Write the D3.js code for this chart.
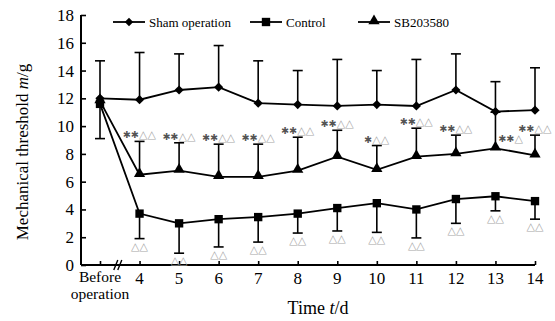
<!DOCTYPE html>
<html>
<head>
<meta charset="utf-8">
<script src="https://cdn.jsdelivr.net/npm/d3@7"></script>
<style>
  html, body { margin: 0; padding: 0; background: #fff; }
  svg { display: block; font-family: "Liberation Serif", "Times New Roman", serif; }
</style>
</head>
<body>
<div id="chart"></div>
<script>
// categories on the time axis
const days = ['Before operation', '4', '5', '6', '7', '8', '9', '10', '11', '12', '13', '14'];
const yTicks = [0, 2, 4, 6, 8, 10, 12, 14, 16, 18];

// mean values
const sham = [12.0, 11.9, 12.6, 12.8, 11.65, 11.55, 11.45, 11.55, 11.45, 12.6, 11.05, 11.15];
const control = [11.6, 3.7, 3.0, 3.3, 3.45, 3.7, 4.1, 4.45, 4.0, 4.75, 4.95, 4.6];
const sb = [11.8, 6.5, 6.8, 6.35, 6.35, 6.8, 7.8, 6.85, 7.8, 8.0, 8.4, 7.9];

// error bar ends (sham and SB drawn upward, control downward)
const shamHigh = [14.7, 15.3, 15.2, 15.8, 14.7, 14.0, 14.8, 14.0, 14.8, 15.2, 13.2, 14.2];
const shamLow = [9.1, null, null, null, null, null, null, null, null, null, null, null];
const sbHigh = [null, 8.9, 8.8, 8.7, 8.7, 9.2, 9.7, 8.6, 9.85, 9.35, 11.0, 9.35];
const controlLow = [null, 1.9, 0.85, 1.3, 1.65, 2.3, 2.45, 2.35, 1.95, 3.0, 3.9, 3.3];

// significance marks
const sbStars = ['', '**', '**', '**', '**', '**', '**', '*', '**', '**', '**', '**'];
const sbTri = ['', '△△', '△△', '△△', '△△', '△△', '△△', '△△', '△△', '△△', '△', '△△'];
const controlTri = ['', '△△', '△△', '△△', '△△', '△△', '△△', '△△', '△△', '△△', '△△', '△△'];

const legendNames = ['Sham operation', 'Control', 'SB203580'];

const width = 555, height = 321;
const margin = { top: 15, left: 81, bottom: 56 };

const svg = d3.select('#chart').append('svg')
	.attr('width', width).attr('height', height);

const x = d3.scalePoint().domain(days).range([100, 535]);
const y = d3.scaleLinear().domain([0, 18]).range([height - margin.bottom, margin.top]);

const g = svg.append('g');

// y axis, ticks inside
const yAxis = g.append('g').attr('transform', `translate(${margin.left},0)`)
	.call(d3.axisRight(y).tickValues(yTicks).tickSize(5).tickFormat(''));
yAxis.select('.domain').attr('d', `M0,${y(18)}V${y(0)}`).attr('stroke-width', 2);
yAxis.selectAll('.tick line').attr('stroke-width', 1.6);
g.selectAll('.ylab').data(yTicks).join('text')
	.attr('x', margin.left - 7).attr('y', d => y(d) + 6)
	.attr('text-anchor', 'end').attr('font-size', 17).text(d => d);

// x axis, ticks upward
const xAxis = g.append('g').attr('transform', `translate(0,${y(0)})`)
	.call(d3.axisTop(x).tickSize(4).tickFormat(''));
xAxis.select('.domain').attr('d', `M${margin.left},0H${x('14')}`).attr('stroke-width', 2);
xAxis.selectAll('.tick line').attr('stroke-width', 1.6);

// axis break
const bx = (x(days[0]) + x(days[1])) / 2 - 2;
[-2, 2].forEach(o => {
	g.append('line')
		.attr('x1', bx + o - 2).attr('y1', y(0) + 5)
		.attr('x2', bx + o + 2).attr('y2', y(0) - 5)
		.attr('stroke', '#000').attr('stroke-width', 1.4);
});

g.selectAll('.xlab').data(days.slice(1)).join('text')
	.attr('x', d => x(d)).attr('y', y(0) + 19)
	.attr('text-anchor', 'middle').attr('font-size', 17).text(d => d);
const before = g.append('text').attr('x', x(days[0])).attr('text-anchor', 'middle').attr('font-size', 15.5);
before.append('tspan').attr('x', x(days[0])).attr('y', y(0) + 17).text('Before');
before.append('tspan').attr('x', x(days[0])).attr('y', y(0) + 34).text('operation');

// axis titles
const xt = g.append('text').attr('x', 318).attr('y', 314)
	.attr('text-anchor', 'middle').attr('font-size', 18);
xt.append('tspan').text('Time ');
xt.append('tspan').attr('font-style', 'italic').text('t');
xt.append('tspan').text('/d');

const yt = g.append('text').attr('transform', 'translate(28,152) rotate(-90)')
	.attr('text-anchor', 'middle').attr('font-size', 17);
yt.append('tspan').text('Mechanical threshold ');
yt.append('tspan').attr('font-style', 'italic').text('m');
yt.append('tspan').text('/g');

// error bars
const cap = 5;
function bars(means, ends, cls) {
	const pts = days.map((d, i) => ({ d, m: means[i], e: ends[i] })).filter(p => p.e != null);
	const eb = g.append('g').attr('class', cls).attr('stroke', '#000').attr('stroke-width', 1.6);
	eb.selectAll('line.v').data(pts).join('line').attr('class', 'v')
		.attr('x1', p => x(p.d)).attr('x2', p => x(p.d))
		.attr('y1', p => y(p.m)).attr('y2', p => y(p.e));
	eb.selectAll('line.c').data(pts).join('line').attr('class', 'c')
		.attr('x1', p => x(p.d) - cap).attr('x2', p => x(p.d) + cap)
		.attr('y1', p => y(p.e)).attr('y2', p => y(p.e));
}
bars(sham, shamHigh, 'eb-sham');
bars(sham, shamLow, 'eb-sham-low');
bars(sb, sbHigh, 'eb-sb');
bars(control, controlLow, 'eb-control');

// lines
const line = d3.line().x((v, i) => x(days[i])).y(v => y(v));
[sham, control, sb].forEach(s => {
	g.append('path').attr('d', line(s)).attr('fill', 'none')
		.attr('stroke', '#000').attr('stroke-width', 1.8);
});

// markers
function diamond(cx, cy, r) {
	return `M${cx},${cy - r}L${cx + r},${cy}L${cx},${cy + r}L${cx - r},${cy}Z`;
}
const square = d3.symbol(d3.symbolSquare, 70);
const tri = d3.symbol(d3.symbolTriangle, 55);
g.selectAll('.m-sham').data(sham).join('path')
	.attr('d', (v, i) => diamond(x(days[i]), y(v), 4.6)).attr('fill', '#000');
g.selectAll('.m-control').data(control).join('path')
	.attr('transform', (v, i) => `translate(${x(days[i])},${y(v)})`)
	.attr('d', square).attr('fill', '#000');
g.selectAll('.m-sb').data(sb).join('path')
	.attr('transform', (v, i) => `translate(${x(days[i])},${y(v) - 1})`)
	.attr('d', tri).attr('fill', '#000');

// significance marks
function mark(tx, ty, stars, tris, anchor) {
	const t = g.append('text').attr('x', tx).attr('y', ty)
		.attr('text-anchor', anchor).attr('font-family', 'DejaVu Sans');
	if (stars) t.append('tspan').attr('fill', '#555').attr('font-size', 9.5).text(stars.replace(/\*/g, '✱'));
	if (tris) t.append('tspan').attr('fill', '#a8a8a8').attr('font-size', 11).text(tris);
}
days.forEach((d, i) => {
	if (sbHigh[i] != null) {
		if (sbHigh[i] > 10.5) mark(x(d) + 3, y(sb[i]) - 6, sbStars[i], sbTri[i], 'start');
		else mark(x(d), y(sbHigh[i]) - 3, sbStars[i], sbTri[i], 'middle');
	}
	if (controlLow[i] != null) mark(x(d), y(controlLow[i]) + 11, '', controlTri[i], 'middle');
});

// legend
const legX = [113, 250, 358];
const legY = 22;
const leg = g.selectAll('.leg').data(legendNames).join('g')
	.attr('transform', (d, i) => `translate(${legX[i]},${legY})`);
leg.append('line').attr('x1', 0).attr('x2', 32).attr('y1', 0).attr('y2', 0)
	.attr('stroke', '#000').attr('stroke-width', 1.8);
leg.append('path').attr('d', (d, i) => i === 0 ? diamond(16, 0, 4.2) : (i === 1 ? square() : tri()))
	.attr('transform', (d, i) => i === 0 ? null : `translate(16,${i === 2 ? -1 : 0})`)
	.attr('fill', '#000');
leg.append('text').attr('x', 36).attr('y', 4.5).attr('font-size', 13).text(d => d);
</script>
</body>
</html>
